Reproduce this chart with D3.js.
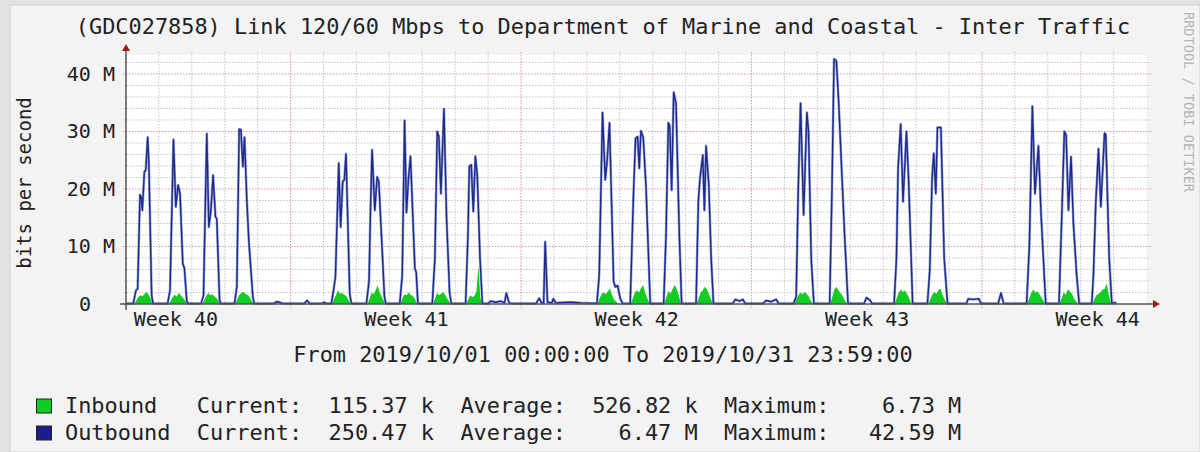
<!DOCTYPE html>
<html>
<head>
<meta charset="utf-8">
<script src="https://cdn.jsdelivr.net/npm/d3@7"></script>
<style>
html, body { margin: 0; padding: 0; background: #e2e2e2; }
svg { display: block; }
text { font-family: "DejaVu Sans Mono", monospace; fill: #222; white-space: pre; }
</style>
</head>
<body>
<svg id="chart" width="1200" height="452"></svg>
<script>
// MRTG style monthly graph, October 2019
const title = "(GDC027858) Link 120/60 Mbps to Department of Marine and Coastal - Inter Traffic";
const period = "From 2019/10/01 00:00:00 To 2019/10/31 23:59:00";
const yLabel = "bits per second";
const watermark = "RRDTOOL / TOBI OETIKER";

const weekLabels = ["Week 40", "Week 41", "Week 42", "Week 43", "Week 44"];
const weekLabelHours = [36, 204, 372, 540, 708];   // hours from Oct 1 00:00
const weekStartHours = [120, 288, 456, 624];       // red week lines
const yTicks = [0, 10, 20, 30, 40];                 // Mbps

// [hours since 2019/10/01 00:00, Mbps]
const outbound = [
  [0,0.1],
  [5.3,0.1],[7.3,2.4],[8.5,2.6],[10.2,19],[11.2,18.5],[11.9,16.3],[13.4,23],[14.4,23.3],[15.8,29],[16.6,25],[18.7,1.5],[19.7,0.1],
  [30.4,0.1],[32.1,2.4],[34.6,28.6],[36.3,16.9],[38,20.7],[39.4,19.2],[41.4,7],[42.6,6.2],[44.3,0.5],[45.3,0.1],
  [54.8,0.1],[56.5,1.5],[58.9,29.6],[60.4,13.4],[61.8,16],[63.5,22.4],[65.2,15.2],[66.2,14.8],[68.2,0.7],[69.1,0.1],
  [79.1,0.1],[80.8,3],[82.5,30.4],[83.8,30.3],[85.2,23.9],[86.4,29],[88.1,18],[89.6,10.8],[92.5,1.2],[93.5,0.1],
  [108,0.1],[110,0.4],[112,0.3],[114,0.1],[130,0.1],[132,0.6],[134,0.1],[143,0.1],[144.5,0.3],[146,0.1],
  [149.7,0.1],[151.4,2.5],[152.7,4.8],[155.1,24.5],[156.5,13.4],[158,21.3],[159.2,21.6],[160.4,26.1],[163.1,1.8],[164.3,0.1],
  [175.3,0.1],[177.2,4],[178.2,15.8],[179.4,26.8],[181.4,16.3],[183.1,22.1],[184.3,21.3],[186.3,11.7],[188.4,1.3],[189.4,0.1],
  [199.6,0.1],[201.4,5],[203.1,31.9],[204.5,15.9],[206,22],[207.4,25.7],[210.6,6.2],[211.6,5.5],[212.8,0.1],
  [223.3,0.1],[225.2,8],[226.9,30],[228.1,29.1],[229.6,19.2],[231.8,33.9],[233.7,14.9],[235.9,2],[237.1,0.1],
  [247.6,0.1],[249.3,12],[250.3,23.9],[251.7,24.2],[253.2,16.1],[254.7,25.7],[256.1,22.4],[258.1,8],[259.8,0.1],
  [264,0.1],[265.9,0.5],[269.5,0.3],[273.2,0.5],[276,0.2],[277.3,1.9],[279.3,0.2],[281,0.1],
  [299,0.1],[301.2,1],[302.9,0.2],[304.5,0.2],[305.6,10.8],[307.3,0.3],[310.5,0.2],[311.6,0.9],[313.3,0.2],[321.9,0.3],[325.5,0.3],[331.6,0.2],
  [343.3,0.1],[345,5],[347.4,33.3],[349.4,21.6],[350.8,25],[352.5,31.5],[355.5,3.9],[356.7,3],[358.4,3.2],[360.3,1],[362,0.1],
  [367.6,0.1],[370.1,20],[371.5,28.8],[373,29.1],[374.2,23.6],[375.4,30.1],[377.1,29],[379.1,20.4],[382.2,0.1],
  [392,0.1],[393.7,12],[395.4,31.5],[396.4,31],[397.8,19.8],[399.3,36.8],[401,34.9],[403.4,12],[405.1,0.1],
  [415.6,0.1],[417.3,18],[418.5,21.9],[420.5,25.9],[421.7,16.3],[422.9,27.5],[424.9,20.7],[426.6,8],[428.3,0.1],
  [442.4,0.1],[444.3,0.8],[447.2,0.5],[449.7,0.8],[451.4,0.1],[464.3,0.1],[466.7,0.6],[470.4,0.4],[474,0.8],[475.7,0.1],
  [486.7,0.1],[488.6,1.3],[490.1,20],[491.8,34.9],[494,15.5],[496.4,33.3],[497.6,30],[499.6,7.7],[501.5,0.1],
  [513,0.1],[514.7,20],[516.2,42.6],[517.9,42.3],[519.6,35],[522,22.1],[523.9,12],[526.4,0.1],
  [538.1,0.1],[539.8,1.1],[542.2,0.7],[543.9,0.1],
  [560,0.1],[561.7,8],[562.9,23.6],[564.8,31.3],[566.5,17.8],[569,30],[570.5,22],[573.5,0.1],
  [584.3,0.1],[586,5.9],[587.7,22],[588.9,26.2],[590.4,19.2],[591.6,30.7],[594.1,30.7],[596.5,8],[598.9,0.1],
  [612.8,0.1],[614,0.9],[617.7,0.8],[621.8,0.9],[623.3,0.1],[635.9,0.1],[637.9,1.9],[639.8,0.1],
  [656.6,0.1],[658.6,10],[660.8,34.4],[662.7,19.2],[665.2,27.5],[667.1,15.8],[668.8,8],[670.5,0.1],
  [680.2,0.1],[682.2,15],[684.1,30],[685.4,29.4],[687.1,16.3],[689,25.6],[690.7,14],[693.1,5],[694.9,0.1],
  [704.1,0.1],[705.3,5],[707,17.5],[709,27],[710.7,16.9],[713.4,29.7],[714.3,29.5],[716.8,8],[718.7,0.1],
  [722,0.25]
];

const inbound = [
  [0,0],
  [6,0],[7.5,0.6],[9,1.2],[10.5,1.5],[12,1.3],[13.5,1.8],[15,2.1],[16.5,1.6],[18,0.9],[19.2,0],
  [31,0],[32.5,0.5],[34,1.2],[35.5,1.6],[37,1.3],[38.5,1.9],[40,1.5],[41.5,1.1],[43,0.6],[44.5,0],
  [55.5,0],[57,0.7],[58.5,1.4],[60,1.9],[61.5,1.5],[63,1.7],[64.5,1.3],[66,1.0],[67.5,0.5],[68.8,0],
  [79.5,0],[81,0.8],[82.5,1.5],[84,1.9],[85.5,2.1],[87,1.8],[88.5,1.6],[90,1.2],[91.5,0.6],[93,0],
  [150,0],[151.5,0.8],[153,1.5],[154.5,2.4],[156,1.8],[157.5,1.9],[159,1.6],[160.5,1.4],[162,0.8],[163.8,0],
  [176,0],[177.5,0.9],[179,2.0],[180.5,1.7],[182,2.4],[183.5,3.2],[185,2.0],[186.5,1.2],[188,0.5],[189,0],
  [200,0],[201.5,1.0],[203,1.7],[204.5,1.5],[206,2.0],[207.5,1.6],[209,1.4],[210.5,0.9],[212.3,0],
  [223.8,0],[225.3,1.0],[226.8,1.9],[228.3,1.5],[229.8,1.8],[231.3,2.1],[232.8,1.5],[234.3,0.9],[236.6,0],
  [248,0],[249.5,0.8],[251,1.5],[252.5,1.2],[254,1.4],[255.5,2.2],[257,6.7],[258.3,1.0],[259.5,0],
  [343.8,0],[345.3,1.0],[346.8,1.8],[348.3,2.0],[349.8,1.7],[351.3,2.2],[352.8,2.7],[354.3,1.6],[355.8,0.8],[357.5,0.4],[359,0],
  [368,0],[369.5,1.0],[371,2.0],[372.5,2.4],[374,2.0],[375.5,2.8],[377,3.3],[378.5,2.0],[380,1.0],[381.8,0],
  [392.5,0],[394,1.2],[395.5,2.2],[397,1.8],[398.5,2.6],[400,3.3],[401.5,2.6],[403,1.5],[404.6,0],
  [416,0],[417.5,1.0],[419,2.0],[420.5,2.4],[422,3.0],[423.5,2.5],[425,1.8],[426.5,0.8],[428,0],
  [487.2,0],[488.7,0.8],[490.2,1.5],[491.7,2.0],[493.2,1.7],[494.7,2.1],[496.2,1.8],[497.7,1.3],[499.2,0.6],[501,0],
  [513.4,0],[514.9,1.2],[516.4,2.5],[517.9,3.0],[519.4,2.4],[520.9,1.9],[522.4,1.4],[524,0.6],[525.8,0],
  [560.4,0],[561.9,1.0],[563.4,2.0],[564.9,2.5],[566.4,2.1],[567.9,2.4],[569.4,1.8],[570.9,1.0],[572.8,0],
  [584.8,0],[586.3,0.8],[587.8,1.6],[589.3,2.1],[590.8,1.8],[592.3,2.4],[593.8,2.7],[595.3,1.6],[596.8,0.8],[598.4,0],
  [657,0],[658.5,1.0],[660,1.9],[661.5,2.5],[663,2.0],[664.5,2.2],[666,1.7],[667.5,1.1],[669,0.5],[670,0],
  [680.6,0],[682.1,1.0],[683.6,2.0],[685.1,1.6],[686.6,2.5],[688.1,2.2],[689.6,1.8],[691.1,1.0],[692.6,0.5],[694.4,0],
  [704.5,0],[706,0.8],[707.5,1.5],[709,1.8],[710.5,2.0],[712,2.5],[713.5,2.6],[715,3.6],[716.5,1.5],[718.2,0],
  [722,0.1]
];

const legendNames = ["Inbound", "Outbound"];
const legendColors = ["#11cc22", "#1a1f8c"];
const legendCurrent = ["115.37 k", "250.47 k"];
const legendAverage = ["526.82 k", "6.47 M"];
const legendMaximum = ["6.73 M", "42.59 M"];

const svg = d3.select("#chart");
const plot = {left: 126, right: 1146.5, top: 55, bottom: 304};

const x = d3.scaleLinear().domain([0, 744]).range([plot.left, plot.right]);
const y = d3.scaleLinear().domain([0, 43.3]).range([plot.bottom, plot.top]);

// canvas
svg.append("rect").attr("x", 10).attr("y", 5).attr("width", 1190).attr("height", 447)
  .attr("fill", "#f3f3f3").attr("stroke", "#cfcfcf");
svg.append("rect").attr("x", plot.left).attr("y", plot.top)
  .attr("width", plot.right - plot.left).attr("height", plot.bottom - plot.top)
  .attr("fill", "#fff");

// grid
const grid = svg.append("g");
const minorH = d3.range(2, 44, 2).filter(d => d % 10 !== 0);
const minorV = d3.range(24, 744, 24).filter(d => !weekStartHours.includes(d));

grid.selectAll(".hmin").data(minorH).join("line")
  .attr("x1", plot.left - 2).attr("x2", plot.right + 4)
  .attr("y1", d => y(d)).attr("y2", d => y(d))
  .attr("stroke", "#c4c4c4").attr("stroke-dasharray", "1.5,1.5");
grid.selectAll(".vmin").data(minorV).join("line")
  .attr("x1", d => x(d)).attr("x2", d => x(d))
  .attr("y1", plot.top - 3).attr("y2", plot.bottom + 2)
  .attr("stroke", "#c4c4c4").attr("stroke-dasharray", "1.5,1.5");
grid.selectAll(".hmaj").data(yTicks.filter(d => d > 0)).join("line")
  .attr("x1", plot.left - 3).attr("x2", plot.right + 4)
  .attr("y1", d => y(d)).attr("y2", d => y(d))
  .attr("stroke", "#e89090").attr("stroke-dasharray", "1.5,1.5");
grid.selectAll(".vmaj").data(weekStartHours).join("line")
  .attr("x1", d => x(d)).attr("x2", d => x(d))
  .attr("y1", plot.top - 3).attr("y2", plot.bottom + 4)
  .attr("stroke", "#e89090").attr("stroke-dasharray", "1.5,1.5");

// inbound area, outbound line
const area = d3.area().x(d => x(d[0])).y0(y(0)).y1(d => y(d[1]));
svg.append("path").datum(inbound).attr("d", area).attr("fill", "#11cc22");

const line = d3.line().x(d => x(d[0])).y(d => y(d[1]));
svg.append("path").datum(outbound).attr("d", line)
  .attr("fill", "none").attr("stroke", "#5866b4").attr("stroke-width", 2.6)
  .attr("stroke-linejoin", "round").attr("stroke-opacity", 0.6);
svg.append("path").datum(outbound).attr("d", line)
  .attr("fill", "none").attr("stroke", "#1c2a8c").attr("stroke-width", 1.4)
  .attr("stroke-linejoin", "round");

// axes lines + arrows
svg.append("line").attr("x1", plot.left).attr("x2", plot.left)
  .attr("y1", plot.bottom + 6).attr("y2", plot.top - 6)
  .attr("stroke", "#555").attr("stroke-width", 1.5);
svg.append("line").attr("x1", plot.left - 6).attr("x2", 1154)
  .attr("y1", plot.bottom).attr("y2", plot.bottom)
  .attr("stroke", "#555").attr("stroke-width", 1.5);
svg.append("path").attr("d", `M${plot.left - 4},${plot.top - 4}L${plot.left + 4},${plot.top - 4}L${plot.left},${plot.top - 11}Z`)
  .attr("fill", "#a01818");
svg.append("path").attr("d", `M1153,${plot.bottom - 4}L1153,${plot.bottom + 4}L1160,${plot.bottom}Z`)
  .attr("fill", "#a01818");

// axis labels
const yAxis = d3.axisLeft(y).tickValues(yTicks)
  .tickFormat(d => d === 0 ? "0\u00a0\u00a0" : d + " M")
  .tickSize(0).tickPadding(11);
const gy = svg.append("g").attr("transform", `translate(${plot.left},0)`).call(yAxis);
gy.select(".domain").remove();
gy.selectAll("text").attr("font-size", 20).attr("font-family", "DejaVu Sans Mono").attr("fill", "#222");

const xAxis = d3.axisBottom(x).tickValues(weekLabelHours)
  .tickFormat((d, i) => weekLabels[i]).tickSize(0).tickPadding(8);
const gx = svg.append("g").attr("transform", `translate(0,${plot.bottom})`).call(xAxis);
gx.select(".domain").remove();
gx.selectAll("text").attr("font-size", 20).attr("font-family", "DejaVu Sans Mono").attr("fill", "#222");

// texts
svg.append("text").attr("x", 603).attr("y", 34).attr("text-anchor", "middle")
  .attr("font-size", 21.9).text(title);
svg.append("text").attr("x", 603).attr("y", 362).attr("text-anchor", "middle")
  .attr("font-size", 21.9).text(period);
svg.append("text").attr("transform", "translate(31,183) rotate(-90)")
  .attr("text-anchor", "middle").attr("font-size", 19).text(yLabel);
svg.append("text").attr("transform", "translate(1184,12) rotate(90)")
  .attr("font-size", 13.6).style("fill", "#b4b4b4").text(watermark);

// legend
const pad = (s, n) => s + " ".repeat(Math.max(0, n - s.length));
const lpad = (s, n) => " ".repeat(Math.max(0, n - s.length)) + s;
const legend = svg.append("g");
legendNames.forEach((name, i) => {
  const yy = 413 + i * 27;
  legend.append("rect").attr("x", 36.5).attr("y", yy - 14).attr("width", 15).attr("height", 14)
    .attr("fill", legendColors[i]).attr("stroke", "#222").attr("stroke-width", 1);
  const row = pad(name, 10) + "Current:  " + pad(legendCurrent[i], 10) +
    "Average:  " + lpad(legendAverage[i], 8) + "  Maximum:  " + lpad(legendMaximum[i], 8);
  legend.append("text").attr("x", 65).attr("y", yy).attr("font-size", 21.9).text(row);
});
</script>
</body>
</html>
